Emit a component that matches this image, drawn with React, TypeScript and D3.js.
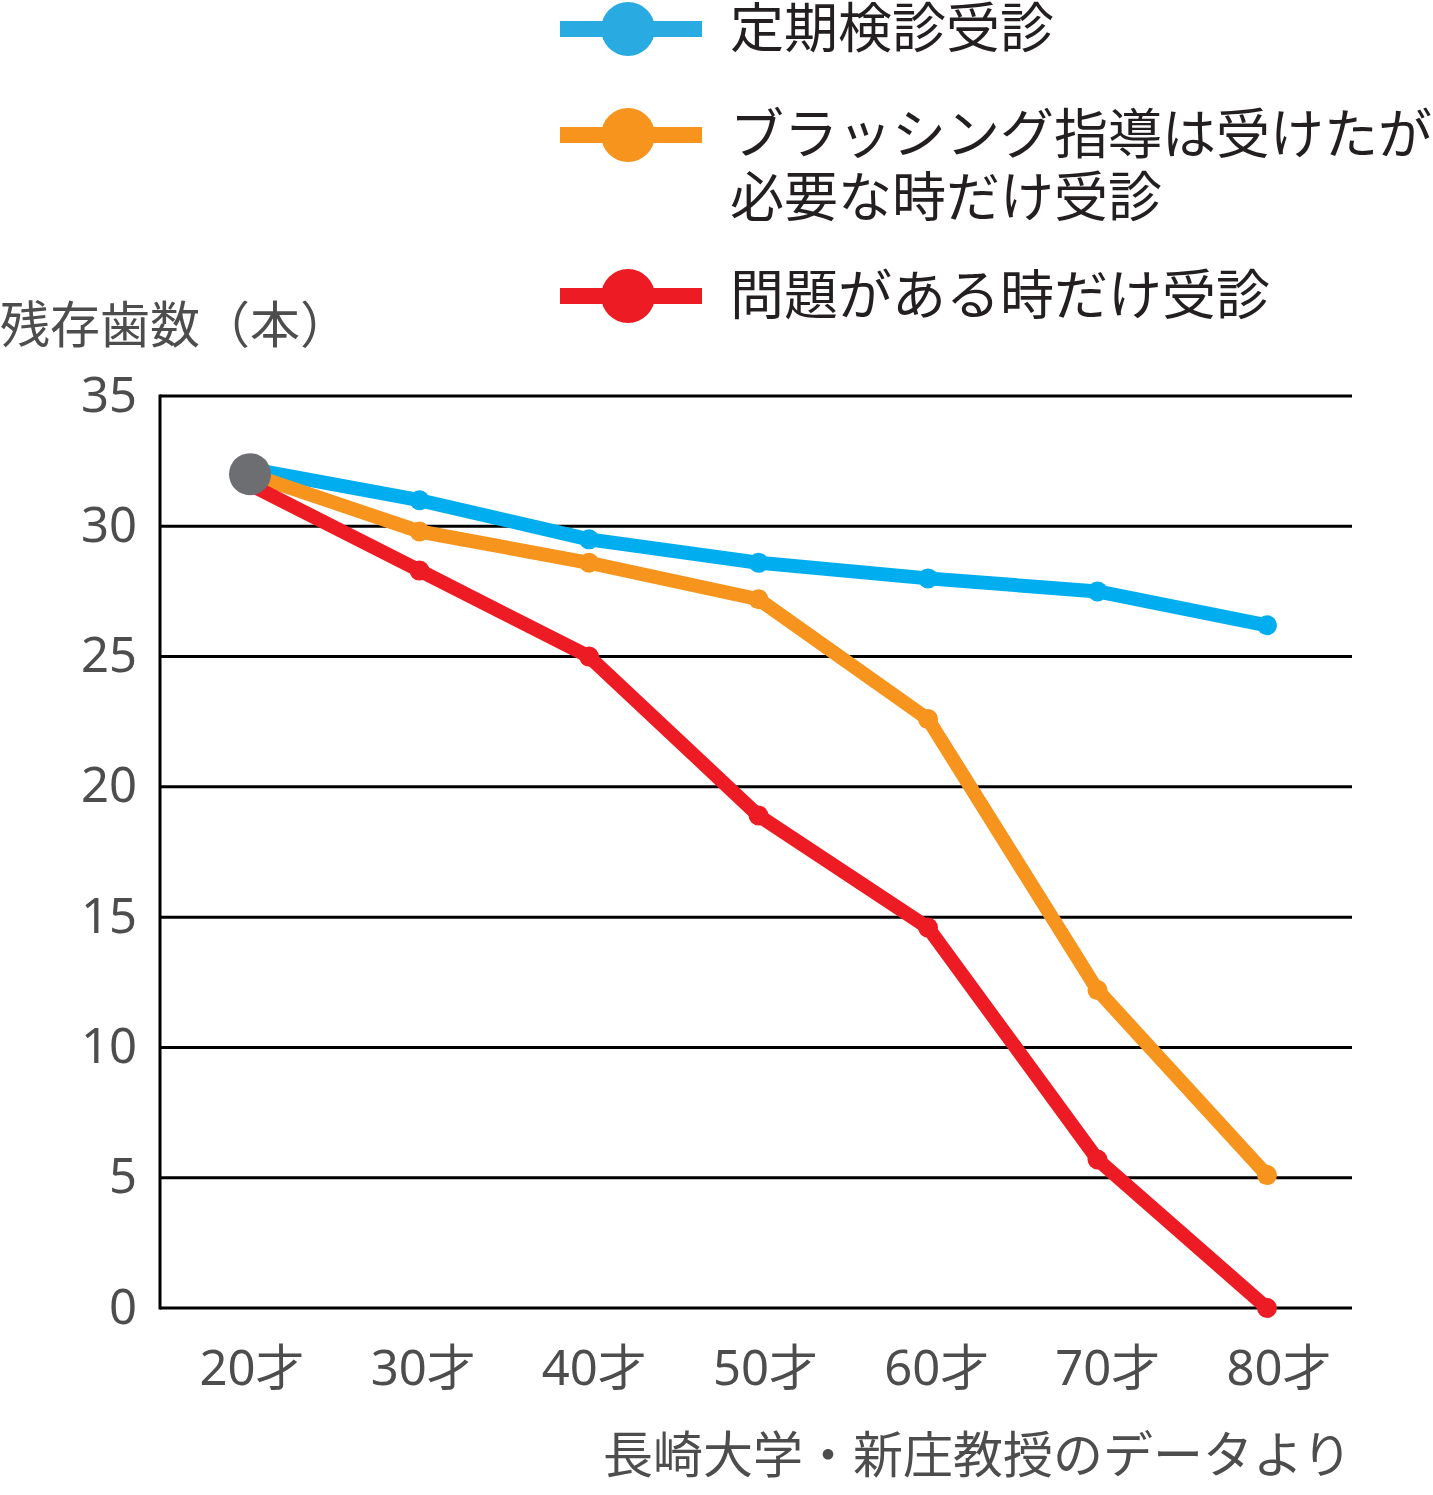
import React from 'react';
import { scalePoint, scaleLinear, line } from 'd3';

const ages = ['20才', '30才', '40才', '50才', '60才', '70才', '80才'];
const regular = [32.2, 31.0, 29.5, 28.6, 28.0, 27.5, 26.2];
const brushing = [32.0, 29.8, 28.6, 27.2, 22.6, 12.2, 5.1];
const whenNeeded = [31.6, 28.3, 25.0, 18.9, 14.6, 5.7, 0];
const yTicks = [0, 5, 10, 15, 20, 25, 30, 35];

const series = [
  { name: ['定期検診受診'], values: regular, color: '#00AEEF', legendColor: '#29ABE2' },
  { name: ['ブラッシング指導は受けたが', '必要な時だけ受診'], values: brushing, color: '#F7941D', legendColor: '#F7941D' },
  { name: ['問題がある時だけ受診'], values: whenNeeded, color: '#ED1C24', legendColor: '#ED1C24' },
];

const font = '"Noto Sans CJK JP", "Noto Sans", sans-serif';
const numFont = '"Noto Sans", "Noto Sans CJK JP", sans-serif';

const App = () => {
  const width = 1433;
  const height = 1495;
  const plot = { left: 160, right: 1352, top: 396, bottom: 1308 };

  const x = scalePoint<string>().domain(ages).range([250, 1267]);
  // the category labels sit on a slightly wider spacing than the points
  const xLabel = scalePoint<string>().domain(ages).range([252, 1279]);
  const y = scaleLinear().domain([0, 35]).range([plot.bottom, plot.top]);

  const path = line<number>()
    .x((d, i) => x(ages[i]) as number)
    .y((d) => y(d));

  const legendRows = [29, 135, 296];

  return (
    <svg
      width={width}
      height={height}
      style={{ position: 'absolute', left: 0, top: 0, background: '#fff' }}
      fontFamily={font}
    >
      {/* legend */}
      {series.map((s, i) => (
        <g key={'lg' + i} transform={'translate(0,' + legendRows[i] + ')'}>
          <line x1={560} x2={702} y1={0} y2={0} stroke={s.legendColor} strokeWidth={16} />
          <circle cx={628} cy={0} r={27} fill={s.legendColor} />
          {s.name.map((t, j) => (
            <text key={j} x={730} y={j * 63} dy="0.36em" fontSize={54} fill="#231F20">
              {t}
            </text>
          ))}
        </g>
      ))}

      {/* y label */}
      <text x={0} y={325} dy="0.36em" fontSize={50} fill="#4D4D4D">
        残存歯数（本）
      </text>

      {/* grid */}
      {yTicks.map((t) => (
        <g key={t}>
          <line x1={plot.left} x2={plot.right} y1={y(t)} y2={y(t)} stroke="#000" strokeWidth={3} />
          <text
            x={137}
            y={y(t) - 2}
            dy="0.36em"
            textAnchor="end"
            fontSize={49}
            fontFamily={numFont}
            fill="#4D4D4D"
          >
            {t}
          </text>
        </g>
      ))}
      <line x1={plot.left} x2={plot.left} y1={plot.top - 1.5} y2={plot.bottom + 1.5} stroke="#000" strokeWidth={3} />

      {/* x labels */}
      {ages.map((a) => (
        <text
          key={a}
          x={xLabel(a)}
          y={1367}
          dy="0.36em"
          textAnchor="middle"
          fontSize={49}
          fontFamily={numFont}
          fill="#4D4D4D"
        >
          {a}
        </text>
      ))}

      {/* series */}
      {series.map((s, i) => (
        <g key={'s' + i}>
          <path d={path(s.values) || ''} fill="none" stroke={s.color} strokeWidth={14} strokeLinejoin="round" />
          {s.values.map((v, k) => (
            <circle key={k} cx={x(ages[k])} cy={y(v)} r={10} fill={s.color} />
          ))}
        </g>
      ))}
      <circle cx={x(ages[0])} cy={y(brushing[0])} r={21} fill="#6D6E71" />

      {/* source */}
      <text x={1352} y={1455} dy="0.36em" textAnchor="end" fontSize={50} fill="#4D4D4D">
        長崎大学・新庄教授のデータより
      </text>
    </svg>
  );
};

export default App;
